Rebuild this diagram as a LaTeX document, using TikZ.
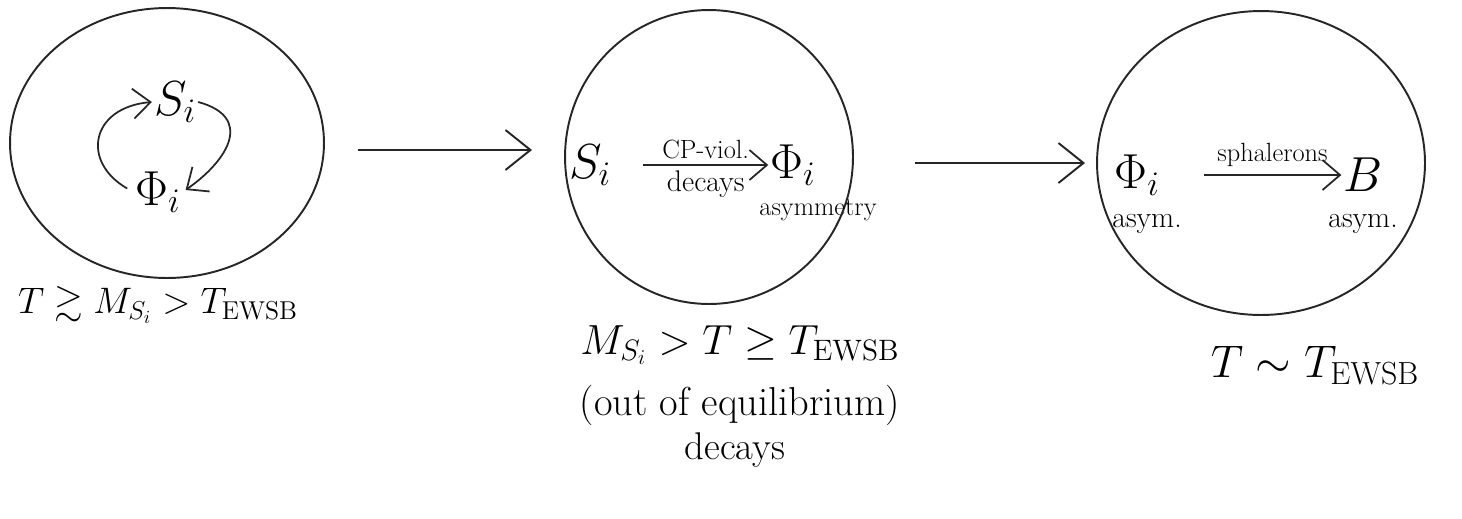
\RequirePackage{fix-cm}
\documentclass[tikz,border=0pt]{standalone}
\usepackage{amsmath,amssymb}
\usetikzlibrary{arrows.meta,shapes.geometric}
\tikzset{
  bubble/.style={draw=black!85, line width=1.1pt, ellipse, inner sep=0pt},
  bigarrow/.style={draw=black!85, line width=1.1pt, -{Straight Barb[length=5mm,width=8mm,line width=1.1pt]}},
  smallarrow/.style={draw=black!85, line width=1.0pt, -{Straight Barb[length=3.5mm,width=6mm,line width=1.0pt]}},
  sym/.style={inner sep=1pt, font=\fontsize{28}{32}\selectfont},
  note/.style={inner sep=1pt, font=\fontsize{15}{17}\selectfont},
  cond/.style={inner sep=1pt, font=\fontsize{23}{27}\selectfont},
}
\begin{document}
\begin{tikzpicture}[x=0.02cm, y=-0.02cm]
\useasboundingbox (0,0) rectangle (1462,518);
% bubbles
\node[bubble, minimum width=6.28cm, minimum height=5.4cm] (c1) at (167,143) {};
\node[bubble, minimum width=5.76cm, minimum height=5.88cm] (c2) at (709,157) {};
\node[bubble, minimum width=6.56cm, minimum height=6.08cm] (c3) at (1261,163) {};
% arrows between bubbles
\coordinate (a1s) at (358,150);
\coordinate (a1e) at (532,150);
\coordinate (a2s) at (915,163);
\coordinate (a2e) at (1085,163);
\draw[bigarrow] (a1s) -- (a1e);
\draw[bigarrow] (a2s) -- (a2e);
% bubble 1
\node[sym] (s1) at (175,102) {$S_i$};
\node[sym] (p1) at (158,192) {$\Phi_i$};
\draw[smallarrow, shorten <=4pt] (p1.west) to[out=150, in=185, looseness=1.7] (s1.west);
\draw[smallarrow, shorten >=2pt] (s1.east) to[out=-15, in=35, looseness=1.6] (p1.east);
% bubble 2
\node[sym] (s2) at (590,165) {$S_i$};
\node[sym] (p2) at (793,165) {$\Phi_i$};
\draw[smallarrow, shorten <=0.6cm] (s2.east) -- node[note, above=2pt, xshift=0.3cm] {CP-viol.} node[note, below=2pt, xshift=0.3cm, font=\fontsize{17}{19}\selectfont] {decays} (p2.west);
\node[note] (as2) at (818,210) {asymmetry};
% bubble 3
\node[sym] (p3) at (1137,175) {$\Phi_i$};
\node[note, font=\fontsize{17}{20}\selectfont] (as3a) at (1147,224) {asym.};
\node[sym] (b3) at (1363,175) {$B$};
\node[note, font=\fontsize{17}{20}\selectfont] (as3b) at (1363,224) {asym.};
\draw[smallarrow, shorten <=0.85cm] (p3.east) -- node[note, above=3pt, xshift=0.42cm] {sphalerons} (b3.west);
% conditions
\node[cond, font=\fontsize{21}{25}\selectfont] (t1) at (158,305) {$T \gtrsim M_{S_i} > T_{\mathrm{EWSB}}$};
\node[cond, font=\fontsize{24}{28}\selectfont] (t2) at (740,345) {$M_{S_i} > T \geq T_{\mathrm{EWSB}}$};
\node[cond] (t3) at (740,405) {(out of equilibrium)};
\node[cond, font=\fontsize{22}{26}\selectfont] (t4) at (735,450) {decays};
\node[cond, font=\fontsize{26}{30}\selectfont] (t5) at (1315,365) {$T \sim T_{\mathrm{EWSB}}$};
\end{tikzpicture}
\end{document}
